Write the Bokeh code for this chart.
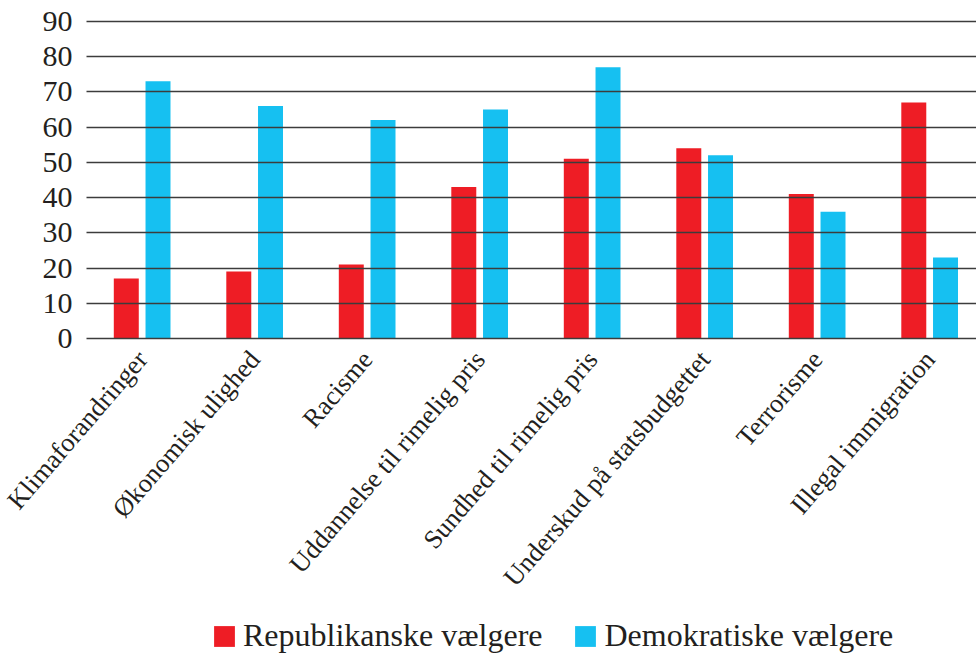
from bokeh.plotting import figure
from bokeh.models import Range1d, Legend, LegendItem, ColumnDataSource, FixedTicker
from bokeh.transform import dodge
from bokeh.embed import file_html
from bokeh.resources import INLINE

categories = ["Klimaforandringer", "Økonomisk ulighed", "Racisme",
              "Uddannelse til rimelig pris", "Sundhed til rimelig pris",
              "Underskud på statsbudgettet", "Terrorisme", "Illegal immigration"]
republikanske = [17, 19, 21, 43, 51, 54, 41, 67]
demokratiske = [73, 66, 62, 65, 77, 52, 36, 23]
y_ticks = [0, 10, 20, 30, 40, 50, 60, 70, 80, 90]
series_labels = ["Republikanske vælgere", "Demokratiske vælgere"]

RED = "#EE1D25"
CYAN = "#16C0F1"
FONT = "Liberation Serif"
TEXT = "#231f20"
GRID = "#3c3c3c"

positions = list(range(len(categories)))
source = ColumnDataSource(data=dict(x=positions, cat=categories,
                                    rep=republikanske, dem=demokratiske))

# frame covers the whole canvas; axes are pinned inside it
p = figure(x_range=Range1d(-1.2591, 7.4164), y_range=Range1d(-91.42, 95.96),
           width=976, height=660, output_backend="svg", toolbar_location=None,
           min_border_left=0, min_border_right=0, min_border_top=0,
           min_border_bottom=0)

r1 = p.vbar(x=dodge("x", -0.141), top="rep", width=0.222,
            source=source, fill_color=RED, line_color=None)
r2 = p.vbar(x=dodge("x", 0.141), top="dem", width=0.222,
            source=source, fill_color=CYAN, line_color=None)

p.outline_line_color = None
p.background_fill_color = "white"
p.border_fill_color = "white"
p.xgrid.grid_line_color = None
p.ygrid.grid_line_color = None

# y axis: its inward ticks act as the horizontal grid lines
p.yaxis.fixed_location = -0.4947
p.yaxis.ticker = FixedTicker(ticks=y_ticks)
p.yaxis.axis_line_color = None
p.yaxis.major_tick_in = 890
p.yaxis.major_tick_out = 0
p.yaxis.major_tick_line_color = GRID
p.yaxis.major_tick_line_width = 1.4
p.yaxis.minor_tick_line_color = None
p.yaxis.major_label_standoff = 14
p.yaxis.major_label_text_font = FONT
p.yaxis.major_label_text_font_size = "30px"
p.yaxis.major_label_text_color = TEXT

# x axis pinned at y = 0
p.xaxis.fixed_location = 0
p.xaxis.ticker = FixedTicker(ticks=positions)
p.xaxis.major_label_overrides = {i: c for i, c in zip(positions, categories)}
p.xaxis.axis_line_color = None
p.xaxis.major_tick_line_color = None
p.xaxis.minor_tick_line_color = None
p.xaxis.major_label_orientation = 0.86
p.xaxis.major_label_standoff = 10
p.xaxis.major_label_text_font = FONT
p.xaxis.major_label_text_font_size = "26.5px"
p.xaxis.major_label_text_color = TEXT

legend = Legend(items=[LegendItem(label=series_labels[0], renderers=[r1]),
                       LegendItem(label=series_labels[1], renderers=[r2])],
                location=(211, 6), orientation="horizontal",
                border_line_color=None, background_fill_alpha=0,
                padding=0, margin=0, spacing=30, label_standoff=6,
                glyph_width=26, glyph_height=26, label_height=26,
                label_text_font=FONT, label_text_font_size="32px",
                label_text_color=TEXT)
p.add_layout(legend)

open("out.html", "w").write(file_html(p, INLINE))
